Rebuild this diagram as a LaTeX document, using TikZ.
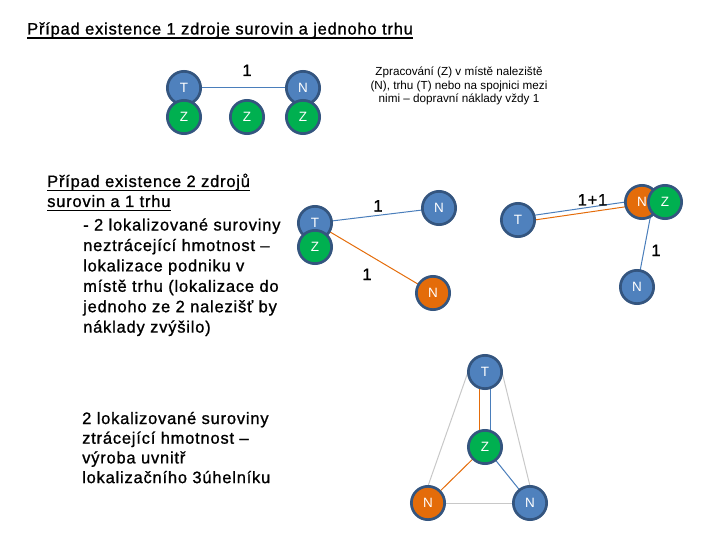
\documentclass[tikz,border=0pt]{standalone}
\usepackage{fontspec}
\setmainfont{Liberation Sans}
\newfontfamily\widefont[LetterSpace=4.8,FakeBold=1]{Liberation Sans}
\definecolor{cblue}{HTML}{4F81BD}
\definecolor{cgreen}{HTML}{00B050}
\definecolor{corange}{HTML}{E46C0A}
\definecolor{cborder}{HTML}{34557F}
\definecolor{lblue}{HTML}{4A7EBB}
\definecolor{lgray}{HTML}{C8C8C8}
\begin{document}
\begin{tikzpicture}[x=1pt,y=-1pt,
  circ/.style={circle, minimum size=33.3pt, inner sep=0pt, line width=2.7pt, draw=cborder, text=white, font=\fontsize{13.5}{15}\selectfont},
  bnode/.style={circ, fill=cblue},
  gnode/.style={circ, fill=cgreen},
  onode/.style={circ, fill=corange},
  bigtext/.style={anchor=base west, inner sep=0pt, font=\widefont\fontsize{16.5}{19}\selectfont},
  lbl/.style={anchor=base, inner sep=0pt, font=\widefont\fontsize{16.5}{19}\selectfont},
  small/.style={align=center, inner sep=0pt, font=\fontsize{11.7}{13.4}\selectfont},
  uline/.style={line width=1.3pt},
  bline/.style={draw=lblue, line width=1pt},
  oline/.style={draw=corange, line width=1pt},
  gline/.style={draw=lgray, line width=1pt}]
\useasboundingbox (0,0) rectangle (720,540);

% title
\node[bigtext] (title) at (27,34.5) {Případ existence 1 zdroje surovin a jednoho trhu};
\draw[uline] ([yshift=-3.6pt]title.base west) -- ([yshift=-3.6pt]title.base east);

% section 1
\node[bnode] (T1) at (184,88) {T};
\node[bnode] (N1) at (303,88) {N};
\node[gnode] (Z1a) at (184,117) {Z};
\node[gnode] (Z1b) at (247,117) {Z};
\node[gnode] (Z1c) at (303,117) {Z};
\draw[bline] (T1) -- (N1);
\node[lbl] (l1) at (247,76) {1};
\node[small] (note) at (459,86) {Zpracování (Z) v místě naleziště\\(N), trhu (T) nebo na spojnici mezi\\nimi – dopravní náklady vždy 1};

% section 2 text
\node[bigtext] (h1) at (47,187) {Případ existence 2 zdrojů};
\draw[uline] ([yshift=-3.3pt]h1.base west) -- ([yshift=-3.3pt]h1.base east);
\node[bigtext] (h2) at (47,207) {surovin a 1 trhu};
\draw[uline] ([yshift=-3.3pt]h2.base west) -- ([yshift=-3.3pt]h2.base east);
\node[bigtext] (b1) at (83,230.5) {- 2 lokalizované suroviny};
\node[bigtext] (b2) at (83,251) {neztrácející hmotnost –};
\node[bigtext] (b3) at (83,271.4) {lokalizace podniku v};
\node[bigtext] (b4) at (83,291.8) {místě trhu (lokalizace do};
\node[bigtext] (b5) at (83,312.2) {jednoho ze 2 nalezišť by};
\node[bigtext] (b6) at (83,332.6) {náklady zvýšilo)};

% section 2 left graph
\coordinate (T2c) at (315,223);
\coordinate (N2ac) at (439,208);
\coordinate (N2bc) at (433,293);
\draw[bline] (T2c) -- (N2ac);
\draw[oline] (T2c) -- (N2bc);
\node[bnode] (T2) at (T2c) {T};
\node[gnode] (Z2) at (315,247) {Z};
\node[bnode] (N2a) at (N2ac) {N};
\node[onode] (N2b) at (N2bc) {N};
\node[lbl] (l2) at (378,211.5) {1};
\node[lbl] (l3) at (367,280) {1};

% section 2 right graph
\coordinate (T3c) at (518,220);
\coordinate (N3c) at (642,202);
\coordinate (Z3c) at (665,202);
\coordinate (N3bc) at (637,287);
\coordinate (J3) at (653,203);
\draw[bline] ([yshift=2.4pt]T3c) -- ([yshift=2.4pt]N3c);
\draw[oline] ([yshift=-2.4pt]T3c) -- ([yshift=-2.4pt]N3c);
\draw[bline] (J3) -- (N3bc);
\node[bnode] (T3) at (T3c) {T};
\node[onode] (N3) at (N3c) {N};
\node[gnode] (Z3) at (Z3c) {Z};
\node[bnode] (N3b) at (N3bc) {N};
\node[lbl] (l4) at (592.5,205.5) {1+1};
\node[lbl] (l5) at (656,256) {1};

% section 3 text
\node[bigtext] (c1) at (82,424) {2 lokalizované suroviny};
\node[bigtext] (c2) at (82,443.7) {ztrácející hmotnost –};
\node[bigtext] (c3) at (82,463.4) {výroba uvnitř};
\node[bigtext] (c4) at (82,483.1) {lokalizačního 3úhelníku};

% section 3 graph
\coordinate (T4c) at (485,372);
\coordinate (Z4c) at (485,447);
\coordinate (N4ac) at (428,503);
\coordinate (N4bc) at (530,503);
\draw[gline] ([xshift=-17pt]T4c) -- ([yshift=17pt]N4ac);
\draw[gline] ([xshift=17pt]T4c) -- ([yshift=17pt]N4bc);
\draw[gline] (N4ac) -- (N4bc);
\draw[oline] ([xshift=-5.3pt]T4c) -- ([xshift=-5.3pt]Z4c);
\draw[bline] ([xshift=5.3pt]T4c) -- ([xshift=5.3pt]Z4c);
\draw[oline] (Z4c) -- (N4ac);
\draw[bline] (Z4c) -- (N4bc);
\node[bnode] (T4) at (T4c) {T};
\node[gnode] (Z4) at (Z4c) {Z};
\node[onode] (N4a) at (N4ac) {N};
\node[bnode] (N4b) at (N4bc) {N};
\end{tikzpicture}
\end{document}
